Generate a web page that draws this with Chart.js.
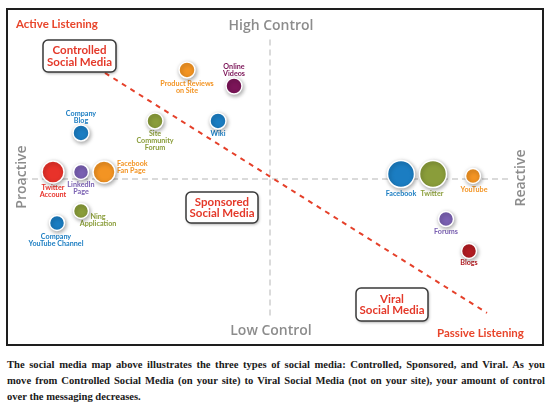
<!DOCTYPE html>
<html>
<head>
<meta charset="utf-8">
<script src="https://cdn.jsdelivr.net/npm/chart.js@4/dist/chart.umd.min.js"></script>
<style>
  html, body { margin: 0; padding: 0; background: #fff; width: 553px; height: 410px; overflow: hidden; }
  #frame { position: absolute; left: 6px; top: 8px; width: 538px; height: 338px; box-sizing: border-box; border: 2px solid #1e1e1e; }
  #wrap { position: absolute; left: 0; top: 0; width: 553px; height: 350px; }
  #caption { position: absolute; left: 7px; top: 357px; width: 538px; font-family: "Liberation Serif", serif; font-weight: bold; font-size: 10.6px; color: #1a1a1a; line-height: 16px; }
  #caption div { white-space: nowrap; }
  #caption .j { text-align: justify; text-align-last: justify; white-space: normal; }
</style>
</head>
<body>
<div id="frame"></div>
<div id="wrap"><canvas id="c" width="553" height="350"></canvas></div>
<div id="caption">
  <div class="j">The social media map above illustrates the three types of social media: Controlled, Sponsored, and Viral. As you</div>
  <div class="j">move from Controlled Social Media (on your site) to Viral Social Media (not on your site), your amount of control</div>
  <div>over the messaging decreases.</div>
</div>
<script>
// ---- DATA ----
const names = ["Product Reviews on Site", "Online Videos", "Company Blog", "Site Community Forum", "Wiki",
  "Twitter Account", "LinkedIn Page", "Facebook Fan Page", "Ning Application", "Company YouTube Channel",
  "Facebook", "Twitter", "YouTube", "Forums", "Blogs"];
// x: proactive (-) to reactive (+); y: low control (-) to high control (+)
const xValues = [-3.32, -1.44, -7.56, -4.6, -2.08, -8.68, -7.56, -6.64, -7.56, -8.52, 5.24, 6.52, 8.12, 7.04, 7.96];
const yValues = [7.27, 6.2, 3.07, 3.87, 3.87, 0.47, 0.47, 0.47, -2.13, -2.93, 0.33, 0.33, 0.2, -2.67, -4.8];
const weights = [8, 8, 8, 8, 8, 11, 7.5, 11, 7.5, 7.5, 13.5, 13.5, 7.5, 7.5, 7.5];
const trendX = [-6.6, 8.68];
const trendY = [7.07, -8.93];

// ---- STYLES ----
const ORANGE = "#f39423", MAROON = "#7b1558", BLUE = "#1b7dc2", GREEN = "#8a9d3a", RED = "#e8322a", PURPLE = "#7a60b2", DRED = "#b21c22";
const colors = [ORANGE, MAROON, BLUE, GREEN, BLUE, RED, PURPLE, ORANGE, GREEN, BLUE, BLUE, GREEN, ORANGE, PURPLE, DRED];
// label lines + pixel offsets from bubble center
const labelLines = [["Product Reviews", "on Site"], ["Online", "Videos"], ["Company", "Blog"], ["Site", "Community", "Forum"], ["Wiki"],
  ["Twitter", "Account"], ["LinkedIn", "Page"], ["Facebook", "Fan Page"], ["Ning", "Application"], ["Company", "YouTube Channel"],
  ["Facebook"], ["Twitter"], ["YouTube"], ["Forums"], ["Blogs"]];
const labelOff = [[0, 14, "center"], [0, -19, "center"], [0, -19, "center"], [0, 13, "center"], [0, 13, "center"],
  [0, 16, "center"], [0, 13, "center"], [13, -8, "left"], [17, 6, "center"], [-1, 14, "center"],
  [0, 20, "center"], [-1, 20, "center"], [1, 14, "center"], [0, 13, "center"], [0, 12, "center"]];
const labelColors = [ORANGE, MAROON, BLUE, GREEN, BLUE, RED, PURPLE, ORANGE, GREEN, BLUE, BLUE, GREEN, ORANGE, PURPLE, DRED];

const bubbleData = names.map((n, i) => ({ x: xValues[i], y: yValues[i], r: weights[i] }));

const annot = {
  id: "annot",
  beforeDatasetDraw(chart, args) {
    if (args.meta.type === "bubble") {
      const ctx = chart.ctx;
      ctx.save();
      ctx.shadowColor = "rgba(0,0,0,0.35)";
      ctx.shadowBlur = 4;
      ctx.shadowOffsetX = 1;
      ctx.shadowOffsetY = 1.5;
    }
  },
  afterDatasetDraw(chart, args) {
    if (args.meta.type === "bubble") chart.ctx.restore();
  },
  beforeDatasetsDraw(chart) {
    const ctx = chart.ctx;
    const xs = chart.scales.x, ys = chart.scales.y;
    ctx.save();
    ctx.textBaseline = "middle";
    ctx.font = "bold 7.2px Lato, 'Open Sans', sans-serif";
    names.forEach((n, i) => {
      const px = xs.getPixelForValue(xValues[i]), py = ys.getPixelForValue(yValues[i]);
      const [dx, dy, al] = labelOff[i];
      ctx.fillStyle = labelColors[i];
      ctx.textAlign = al;
      labelLines[i].forEach((t, k) => ctx.fillText(t, px + dx, py + dy + k * 7));
    });
    ctx.restore();
  },
  afterDraw(chart) {
    const ctx = chart.ctx;
    ctx.save();
    // axis titles
    ctx.fillStyle = "#8c8c8c";
    ctx.font = "600 14px 'Open Sans', sans-serif";
    ctx.textAlign = "center"; ctx.textBaseline = "middle";
    ctx.fillText("High Control", 271, 26);
    ctx.fillText("Low Control", 271, 331);
    ctx.save(); ctx.translate(22, 177); ctx.rotate(-Math.PI / 2); ctx.fillText("Proactive", 0, 0); ctx.restore();
    ctx.save(); ctx.translate(521, 178); ctx.rotate(-Math.PI / 2); ctx.fillText("Reactive", 0, 0); ctx.restore();
    // corner titles
    ctx.fillStyle = "#e8452b";
    ctx.font = "bold 11.5px Lato, sans-serif";
    ctx.textAlign = "left";
    ctx.fillText("Active Listening", 16, 24);
    ctx.fillText("Passive Listening", 437, 333);
    // boxes
    const boxes = [[43, 40, 73, 32, "Controlled", "Social Media"], [186, 192, 72, 31, "Sponsored", "Social Media"], [356, 288, 72, 33, "Viral", "Social Media"]];
    boxes.forEach(([bx, by, bw, bh, a, b]) => {
      ctx.save();
      ctx.shadowColor = "rgba(0,0,0,0.35)"; ctx.shadowBlur = 3; ctx.shadowOffsetX = 1; ctx.shadowOffsetY = 1.5;
      ctx.beginPath();
      ctx.roundRect(bx, by, bw, bh, 5);
      ctx.fillStyle = "#fff"; ctx.fill();
      ctx.shadowColor = "transparent";
      ctx.lineWidth = 1.5; ctx.strokeStyle = "#3a3a3a"; ctx.stroke();
      ctx.restore();
      ctx.fillStyle = "#e4392a";
      ctx.font = "bold 11.5px Lato, sans-serif";
      ctx.textAlign = "center";
      ctx.fillText(a, bx + bw / 2, by + bh / 2 - 5.5);
      ctx.fillText(b, bx + bw / 2, by + bh / 2 + 6);
    });
    ctx.restore();
  }
};

new Chart(document.getElementById("c"), {
  data: {
    datasets: [
      { type: "line", data: [{ x: -9.92, y: 0 }, { x: 9.6, y: 0 }], borderColor: "#b5b5b5", borderWidth: 1, borderDash: [6, 4], pointRadius: 0, order: 3 },
      { type: "line", data: [{ x: 0, y: 9.3 }, { x: 0, y: -9.3 }], borderColor: "#b5b5b5", borderWidth: 1, borderDash: [6, 4], pointRadius: 0, order: 3 },
      { type: "line", data: trendX.map((x, i) => ({ x, y: trendY[i] })), borderColor: "#e5402a", borderWidth: 2, borderDash: [5, 5], pointRadius: 0, order: 2 },
      { type: "bubble", data: bubbleData, backgroundColor: colors, borderColor: "#ffffff", borderWidth: 1.5, order: 1 }
    ]
  },
  options: {
    responsive: false,
    animation: false,
    layout: { padding: { left: 20, right: 33, top: 29, bottom: 21 } },
    scales: {
      x: { type: "linear", min: -10, max: 10, display: false },
      y: { type: "linear", min: -10, max: 10, display: false }
    },
    plugins: { legend: { display: false }, tooltip: { enabled: false } }
  },
  plugins: [annot]
});
</script>
</body>
</html>
